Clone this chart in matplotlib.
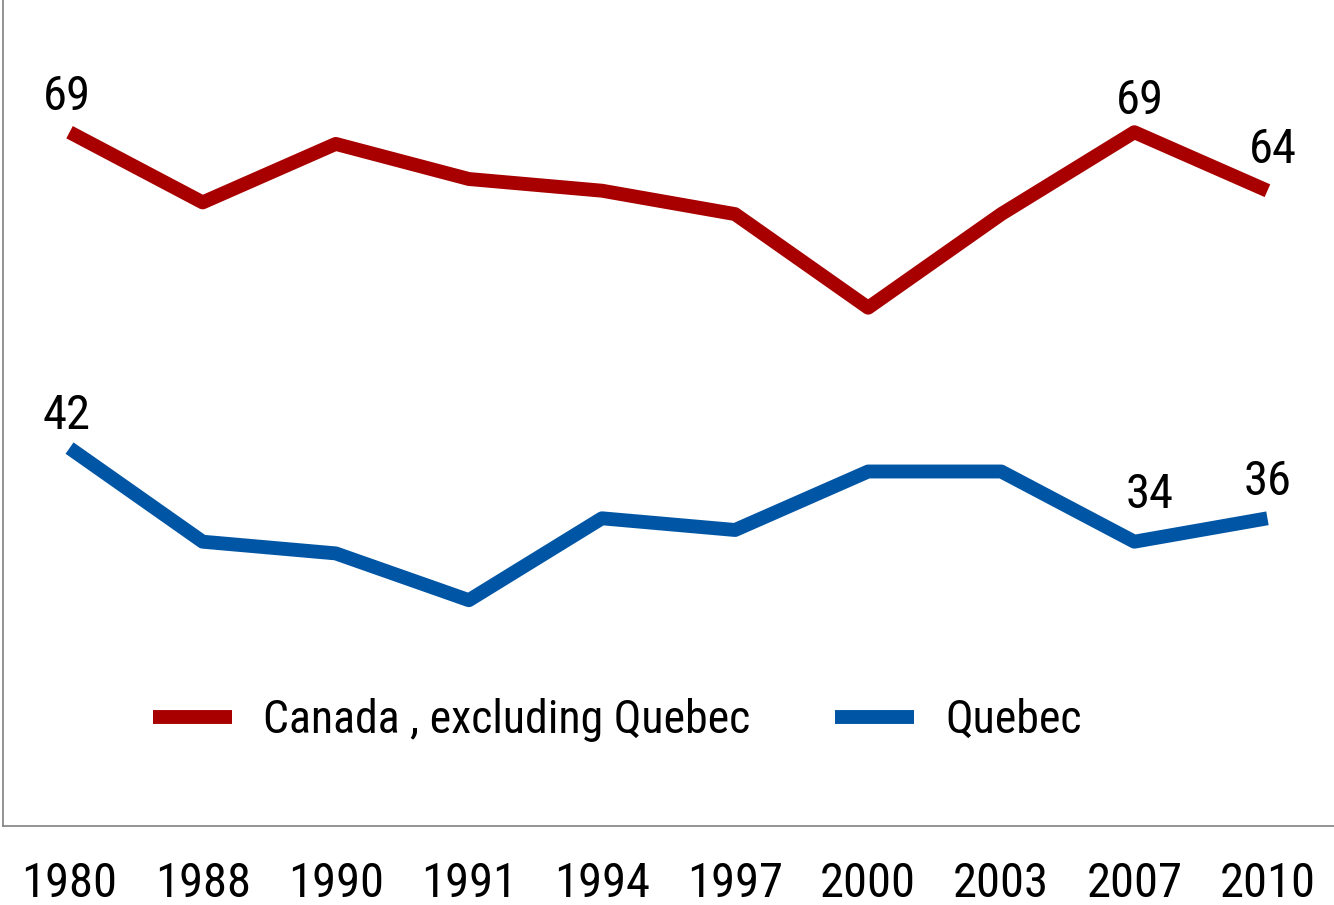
import matplotlib
matplotlib.use("Agg")
import matplotlib.pyplot as plt
from matplotlib import font_manager

names = {f.name for f in font_manager.fontManager.ttflist}
fam = [n for n in ["Liberation Sans Narrow", "Roboto Condensed", "Archivo Narrow", "PT Sans Narrow"] if n in names]
plt.rcParams["font.family"] = fam[:1] + ["DejaVu Sans"]

years = ["1980", "1988", "1990", "1991", "1994", "1997", "2000", "2003", "2007", "2010"]
canada_excl_quebec = [69, 63, 68, 65, 64, 62, 54, 62, 69, 64]
quebec = [42, 34, 33, 29, 36, 35, 40, 40, 34, 36]
labeled_idx = [0, 8, 9]

W, H = 1334, 905
fig = plt.figure(figsize=(W / 100, H / 100), dpi=100)
ax = fig.add_axes([3 / W, (H - 826) / H, 1 - 3 / W, 826 / H])

x = list(range(len(years)))
red = "#A80000"
blue = "#0055A5"
ax.plot(x, canada_excl_quebec, color=red, lw=10, solid_capstyle="butt",
        solid_joinstyle="round", label="Canada , excluding Quebec")
ax.plot(x, quebec, color=blue, lw=10, solid_capstyle="butt",
        solid_joinstyle="round", label="Quebec")

fs = 35
offsets_c = {0: (-2, 16), 8: (4, 13), 9: (4, 20)}
offsets_q = {0: (-2, 14), 8: (11, 24), 9: (0, 17)}
for i in labeled_idx:
    ax.annotate(str(canada_excl_quebec[i]), (x[i], canada_excl_quebec[i]),
                xytext=offsets_c[i], textcoords="offset points",
                ha="center", va="baseline", fontsize=fs)
    ax.annotate(str(quebec[i]), (x[i], quebec[i]),
                xytext=offsets_q[i], textcoords="offset points",
                ha="center", va="baseline", fontsize=fs)

ax.set_xlim(-0.5, len(years) - 0.5)
ax.set_ylim(9.7, 80.3)
ax.set_xticks(x)
ax.set_xticklabels(years, fontsize=fs)
ax.set_yticks([])
ax.tick_params(axis="x", length=0, pad=25)
for s in ["top", "right"]:
    ax.spines[s].set_visible(False)
for s in ["left", "bottom"]:
    ax.spines[s].set_color("#808080")
    ax.spines[s].set_linewidth(1.2)

leg = ax.legend(loc="center left", bbox_to_anchor=((153 - 3) / (W - 3), 1 - 720 / 826),
                ncol=2, frameon=False, fontsize=33, handlelength=1.72,
                handletextpad=0.68, columnspacing=1.85, borderpad=0, borderaxespad=0)

fig.savefig("out.png", dpi=100)
